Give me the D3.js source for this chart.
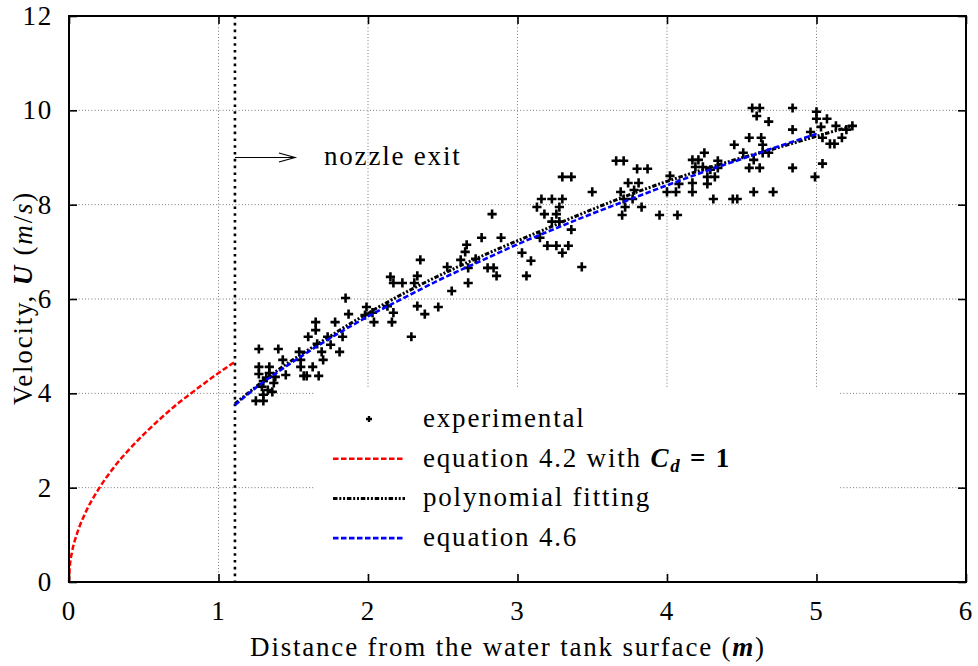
<!DOCTYPE html>
<html>
<head>
<meta charset="utf-8">
<script src="https://cdn.jsdelivr.net/npm/d3@7"></script>
<style>
  body { margin: 0; background: #fff; }
  text { font-family: "Liberation Serif", serif; fill: #000; letter-spacing: 1.8px; }
</style>
</head>
<body>
<svg id="chart" width="978" height="666"></svg>
<script>
// Axis ticks
const xTicks = [0, 1, 2, 3, 4, 5, 6];
const yTicks = [0, 2, 4, 6, 8, 10, 12];
const xGrid = [1, 2, 3, 4, 5];
const yGrid = [2, 4, 6, 8, 10];

// Position of the nozzle exit (m)
const nozzleExit = 1.11;

// Measured velocities: distance (m) and velocity (m/s)
const expDistance = [
  1.27,1.40,1.43,1.54,1.27,1.34,1.27,1.34,1.38,1.32,1.45,1.30,1.37,1.33,1.36,1.30,1.25,1.30,1.29,1.55,
  1.57,1.59,1.63,1.67,1.55,1.60,1.65,1.65,1.66,1.69,1.70,1.73,1.75,1.78,1.81,1.83,1.85,1.87,1.99,1.98,
  2.03,2.04,2.13,2.17,2.16,2.15,2.17,2.23,2.33,2.31,2.33,2.38,2.47,2.29,2.56,2.67,2.35,2.53,
  2.76,2.83,2.89,2.66,2.65,2.62,2.72,2.80,2.84,2.67,2.86,3.03,3.09,3.06,3.30,3.36,3.50,3.16,3.23,3.30,
  3.13,3.28,3.18,3.26,3.23,3.28,3.36,3.15,3.20,3.26,3.34,3.30,3.43,
  3.66,3.71,3.80,3.87,3.69,3.74,3.81,3.78,4.02,4.08,4.00,4.06,3.71,3.77,3.72,3.83,3.70,3.95,4.07,4.17,
  4.21,4.25,4.34,4.19,4.24,4.34,4.29,4.27,4.32,4.17,4.27,4.17,4.31,4.44,4.47,4.45,4.51,4.55,4.63,4.64,
  4.58,4.64,4.68,4.55,4.62,4.58,4.71,4.84,4.57,4.62,4.60,4.68,4.84,4.84,5.00,5.00,5.07,5.13,5.03,5.20,
  5.24,4.96,5.04,5.17,5.09,5.12,5.04,4.99
];
const expVelocity = [
  4.94,4.94,4.71,4.88,4.56,4.56,4.41,4.43,4.35,4.33,4.39,4.26,4.22,4.07,4.03,3.97,3.84,3.84,4.14,4.56,
  4.37,4.37,4.56,4.37,4.71,5.20,5.51,5.34,5.05,4.88,4.71,5.20,5.03,5.51,4.88,5.20,6.02,5.68,5.83,5.66,
  5.71,5.51,5.85,5.71,5.51,6.47,6.34,6.34,6.49,6.34,5.85,5.68,5.83,5.20,6.17,6.34,6.83,6.68,
  7.30,7.80,7.30,7.15,7.00,6.83,6.85,6.66,6.66,6.66,6.49,6.98,6.81,6.49,8.59,8.59,8.27,8.12,8.12,8.12,
  7.95,7.95,7.80,7.80,7.64,7.64,7.47,7.30,7.13,7.13,7.13,6.98,6.68,
  8.93,8.93,8.76,8.76,8.27,8.46,8.46,8.31,8.61,8.44,8.27,8.27,8.12,8.12,7.95,7.95,7.78,7.78,7.78,8.95,
  8.95,9.10,8.93,8.80,8.80,8.78,8.74,8.59,8.59,8.46,8.44,8.27,8.12,8.12,8.12,9.27,9.10,9.42,9.42,9.27,
  8.95,9.10,9.10,8.78,8.78,8.27,8.27,8.78,10.05,10.05,9.88,9.76,10.05,9.59,9.97,9.82,9.82,9.67,9.65,9.59,
  9.67,9.54,9.42,9.42,9.29,9.29,8.87,8.59
];

// Equation 4.2 with Cd = 1 (free fall inside the tank section)
const eq42Distance = [0, 0.005, 0.02, 0.05, 0.1, 0.2, 0.3, 0.4, 0.5, 0.6, 0.7, 0.8, 0.9, 1.0, 1.11];
const eq42Velocity = [0, 0.31, 0.63, 0.99, 1.40, 1.98, 2.43, 2.80, 3.13, 3.43, 3.71, 3.96, 4.20, 4.43, 4.67];

// Polynomial fitting of the measurements
const polyDistance = [1.11, 1.4, 1.7, 2.0, 2.3, 2.6, 2.9, 3.2, 3.5, 3.8, 4.1, 4.4, 4.7, 5.0, 5.24];
const polyVelocity = [3.78, 4.50, 5.12, 5.70, 6.22, 6.68, 7.10, 7.50, 7.90, 8.27, 8.60, 8.90, 9.17, 9.45, 9.67];

// Equation 4.6
const eq46Distance = [1.11, 1.25, 1.4, 1.6, 1.8, 2.0, 2.25, 2.5, 2.75, 3.0, 3.25, 3.5, 3.75, 4.0, 4.25, 4.5, 4.75, 5.0];
const eq46Velocity = [3.75, 4.12, 4.46, 4.88, 5.27, 5.63, 6.04, 6.44, 6.80, 7.16, 7.49, 7.81, 8.11, 8.41, 8.70, 8.97, 9.24, 9.50];

const svg = d3.select("#chart");
const plotL = 69, plotR = 966, plotT = 16, plotB = 582;
const x = d3.scaleLinear().domain([0, 6]).range([plotL, plotR]);
const y = d3.scaleLinear().domain([0, 12]).range([plotB, plotT]);
const FS = 27;

// Grid
const grid = svg.append("g").attr("stroke", "#777").attr("stroke-width", 1).attr("stroke-dasharray", "1,2.2");
grid.selectAll("line.v").data(xGrid).join("line").attr("class", "v")
  .attr("x1", d => x(d)).attr("x2", d => x(d)).attr("y1", y(0)).attr("y2", y(12));
grid.selectAll("line.h").data(yGrid).join("line").attr("class", "h")
  .attr("y1", d => y(d)).attr("y2", d => y(d)).attr("x1", x(0)).attr("x2", x(6));

// Opaque key background
const keyBox = { x0: 315, y0: 389, x1: 840, y1: 572 };
svg.append("rect").attr("x", keyBox.x0).attr("y", keyBox.y0)
  .attr("width", keyBox.x1 - keyBox.x0).attr("height", keyBox.y1 - keyBox.y0).attr("fill", "#fff");

// Nozzle exit marker line
svg.append("line")
  .attr("x1", x(nozzleExit)).attr("x2", x(nozzleExit)).attr("y1", y(12)).attr("y2", y(0))
  .attr("stroke", "#000").attr("stroke-width", 2.6).attr("stroke-dasharray", "2.6,4.2");

// Arrow and label
const arrowY = y(9.0);
const ax0 = x(nozzleExit), ax1 = x(nozzleExit) + 60;
svg.append("line").attr("x1", ax0).attr("x2", ax1).attr("y1", arrowY).attr("y2", arrowY)
  .attr("stroke", "#000").attr("stroke-width", 1.2);
svg.append("path")
  .attr("d", `M${ax1 - 16},${arrowY - 4.5}L${ax1},${arrowY}L${ax1 - 16},${arrowY + 4.5}`)
  .attr("fill", "none").attr("stroke", "#000").attr("stroke-width", 1.2);
svg.append("text").attr("x", 324).attr("y", arrowY + 7).attr("font-size", FS).text("nozzle exit");

// Curves
const line = d3.line().x(d => x(d[0])).y(d => y(d[1])).curve(d3.curveMonotoneX);
const zip = (a, b) => a.map((v, i) => [v, b[i]]);

const styles = {
  eq42: { stroke: "#ff0000", dash: "5.5,2.5", width: 2.5 },
  poly: { stroke: "#000000", dash: "4.5,1.8,2,1.8,2,1.8", width: 3 },
  eq46: { stroke: "#0000ff", dash: "5.5,2.5", width: 2.6 }
};

// Experimental points
const plus = "M-4.6,0H4.6M0,-4.6V4.6";
svg.append("g").selectAll("path").data(zip(expDistance, expVelocity)).join("path")
  .attr("transform", d => `translate(${x(d[0])},${y(d[1])})`)
  .attr("d", plus).attr("stroke", "#000").attr("stroke-width", 2.6).attr("fill", "none");

[["eq42", zip(eq42Distance, eq42Velocity)],
 ["poly", zip(polyDistance, polyVelocity)],
 ["eq46", zip(eq46Distance, eq46Velocity)]].forEach(([k, pts]) => {
  svg.append("path").datum(pts)
    .attr("d", line)
    .attr("fill", "none").attr("stroke", styles[k].stroke)
    .attr("stroke-width", styles[k].width).attr("stroke-dasharray", styles[k].dash);
});

// Axes with inward ticks on all four sides
const tick = 8;
const axB = svg.append("g").attr("transform", `translate(0,${plotB})`)
  .call(d3.axisBottom(x).tickValues(xTicks).tickSize(-tick).tickSizeOuter(0).tickPadding(19).tickFormat(d3.format("d")));
const axT = svg.append("g").attr("transform", `translate(0,${plotT})`)
  .call(d3.axisTop(x).tickValues(xTicks).tickSize(-tick).tickSizeOuter(0).tickFormat(""));
const axL = svg.append("g").attr("transform", `translate(${plotL},0)`)
  .call(d3.axisLeft(y).tickValues(yTicks).tickSize(-tick).tickSizeOuter(0).tickPadding(16).tickFormat(d3.format("d")));
const axR = svg.append("g").attr("transform", `translate(${plotR},0)`)
  .call(d3.axisRight(y).tickValues(yTicks).tickSize(-tick).tickSizeOuter(0).tickFormat(""));
[axB, axT, axL, axR].forEach(g => {
  g.select(".domain").remove();
  g.selectAll("line").attr("stroke", "#000").attr("stroke-width", 1.6);
  g.selectAll("text").attr("font-size", FS).attr("font-family", "Liberation Serif, serif").attr("fill", "#000");
});
svg.append("rect").attr("x", plotL).attr("y", plotT).attr("width", plotR - plotL).attr("height", plotB - plotT)
  .attr("fill", "none").attr("stroke", "#000").attr("stroke-width", 2);

// Axis titles
const xt = svg.append("text").attr("x", 508).attr("y", 656)
  .attr("text-anchor", "middle").attr("font-size", FS);
xt.append("tspan").text("Distance from the water tank surface (");
xt.append("tspan").attr("font-style", "italic").attr("font-weight", "bold").text("m");
xt.append("tspan").text(")");

const yt = svg.append("text").attr("transform", "translate(32,298) rotate(-90)")
  .attr("text-anchor", "middle").attr("font-size", FS);
yt.append("tspan").text("Velocity, ");
yt.append("tspan").attr("font-style", "italic").attr("font-weight", "bold").text("U");
yt.append("tspan").text(" (");
yt.append("tspan").attr("font-style", "italic").text("m");
yt.append("tspan").text("/");
yt.append("tspan").attr("font-style", "italic").text("s");
yt.append("tspan").text(")");

// Key
const keyRows = [
  { key: "exp", label: "experimental" },
  { key: "eq42", label: "equation 4.2 with " },
  { key: "poly", label: "polynomial fitting" },
  { key: "eq46", label: "equation 4.6" }
];
const rowY = i => 419 + i * 39.7;
const sx0 = 333, sx1 = 405, tx = 423;
keyRows.forEach((r, i) => {
  const yy = rowY(i);
  if (r.key === "exp") {
    svg.append("path").attr("transform", `translate(${(sx0 + sx1) / 2},${yy})`)
      .attr("d", "M-3,0H3M0,-3V3").attr("stroke", "#000").attr("stroke-width", 2.3);
  } else {
    svg.append("line").attr("x1", sx0).attr("x2", sx1).attr("y1", yy).attr("y2", yy)
      .attr("stroke", styles[r.key].stroke).attr("stroke-width", styles[r.key].width)
      .attr("stroke-dasharray", styles[r.key].dash);
  }
  const t = svg.append("text").attr("x", tx).attr("y", yy + 8).attr("font-size", FS);
  t.append("tspan").text(r.label);
  if (r.key === "eq42") {
    t.append("tspan").attr("font-style", "italic").attr("font-weight", "bold").text("C");
    t.append("tspan").attr("font-style", "italic").attr("font-weight", "bold")
      .attr("font-size", FS * 0.7).attr("dy", 5).text("d");
    t.append("tspan").attr("font-weight", "bold").attr("dy", -5).text(" = 1");
  }
});
</script>
</body>
</html>
